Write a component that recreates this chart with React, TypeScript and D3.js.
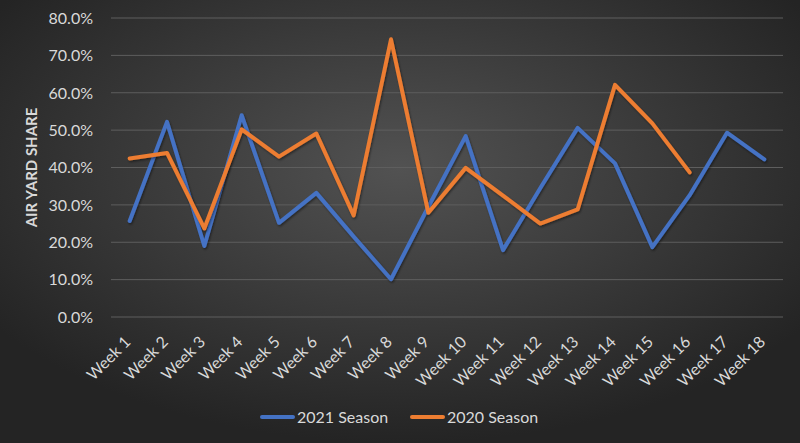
// AirYardShareChart.tsx

import React, { useEffect, useRef } from 'react';
import * as d3 from 'd3';

const weeks = [
  'Week 1', 'Week 2', 'Week 3', 'Week 4', 'Week 5', 'Week 6',
  'Week 7', 'Week 8', 'Week 9', 'Week 10', 'Week 11', 'Week 12',
  'Week 13', 'Week 14', 'Week 15', 'Week 16', 'Week 17', 'Week 18',
];

const season2021 = [
  25.7, 52.2, 19.0, 54.0, 25.2, 33.2, 21.5, 10.1, 29.5,
  48.4, 17.9, 34.5, 50.6, 41.1, 18.7, 32.6, 49.3, 42.2,
];

const season2020: (number | null)[] = [
  42.4, 43.9, 23.7, 50.2, 42.9, 49.1, 27.2, 74.3, 27.9,
  39.9, 32.5, 25.0, 28.8, 62.1, 51.8, 38.7, null, null,
];

const yTicks = [0, 10, 20, 30, 40, 50, 60, 70, 80];

const seriesNames = ['2021 Season', '2020 Season'];

const WIDTH = 800;
const HEIGHT = 443;
const FONT = 'Lato, "Noto Sans", sans-serif';
const TEXT_COLOR = '#d9d9d9';
const COLORS = ['#4472C4', '#ED7D31'];

const AirYardShareChart = () => {
  const svgRef = useRef<SVGSVGElement>(null);

  useEffect(() => {
    const svg = d3.select(svgRef.current);
    svg.selectAll('*').remove();

    const margin = { top: 18, right: 17, bottom: 126, left: 111 };
    const plotW = WIDTH - margin.left - margin.right;
    const plotH = HEIGHT - margin.top - margin.bottom;

    // background gradient + shadow filter
    const defs = svg.append('defs');
    const grad = defs
      .append('radialGradient')
      .attr('id', 'bg')
      .attr('cx', '50%')
      .attr('cy', '38%')
      .attr('r', '62%');
    grad.append('stop').attr('offset', '0%').attr('stop-color', '#525252');
    grad.append('stop').attr('offset', '100%').attr('stop-color', '#242424');

    const shadow = defs.append('filter').attr('id', 'shadow').attr('x', '-5%').attr('y', '-5%').attr('width', '110%').attr('height', '110%');
    shadow
      .append('feDropShadow')
      .attr('dx', 1)
      .attr('dy', 1.5)
      .attr('stdDeviation', 1.2)
      .attr('flood-color', '#000')
      .attr('flood-opacity', 0.45);

    svg.append('rect').attr('width', WIDTH).attr('height', HEIGHT).attr('fill', 'url(#bg)');

    const g = svg
      .append('g')
      .attr('transform', `translate(${margin.left},${margin.top})`);

    const x = d3.scaleBand<string>().domain(weeks).range([0, plotW]);
    const y = d3.scaleLinear().domain([0, 80]).range([plotH, 0]);
    const cx = (w: string) => (x(w) ?? 0) + x.bandwidth() / 2;

    // gridlines
    g.selectAll('.grid')
      .data(yTicks)
      .enter()
      .append('line')
      .attr('x1', 0)
      .attr('x2', plotW)
      .attr('y1', (d) => y(d))
      .attr('y2', (d) => y(d))
      .attr('stroke', '#5e5e5e')
      .attr('stroke-width', 1);

    // y tick labels
    g.selectAll('.ylabel')
      .data(yTicks)
      .enter()
      .append('text')
      .attr('x', -18)
      .attr('y', (d) => y(d))
      .attr('dy', '0.36em')
      .attr('text-anchor', 'end')
      .attr('fill', TEXT_COLOR)
      .style('font-family', FONT)
      .style('font-size', '16px')
      .text((d) => `${d.toFixed(1)}%`);

    // x tick labels
    g.selectAll('.xlabel')
      .data(weeks)
      .enter()
      .append('text')
      .attr('transform', (d) => `translate(${cx(d) - 2},${plotH + 22}) rotate(-45)`)
      .attr('text-anchor', 'end')
      .attr('dy', '0.35em')
      .attr('fill', TEXT_COLOR)
      .style('font-family', FONT)
      .style('font-size', '16px')
      .text((d) => d);

    // axis title
    svg
      .append('text')
      .attr('transform', `translate(37,${margin.top + plotH / 2}) rotate(-90)`)
      .attr('text-anchor', 'middle')
      .attr('fill', TEXT_COLOR)
      .style('font-family', FONT)
      .style('font-size', '15px')
      .style('font-weight', 'bold')
      .text('AIR YARD SHARE');

    // lines
    const line = d3
      .line<number | null>()
      .defined((d) => d !== null)
      .x((_, i) => cx(weeks[i]))
      .y((d) => y(d as number));

    [season2021, season2020].forEach((vals, i) => {
      g.append('path')
        .datum(vals)
        .attr('d', line)
        .attr('fill', 'none')
        .attr('stroke', COLORS[i])
        .attr('stroke-width', 4)
        .attr('stroke-linejoin', 'round')
        .attr('stroke-linecap', 'round')
        .attr('filter', 'url(#shadow)');
    });

    // legend
    const legendX = [262, 412];
    const legendY = 417;
    seriesNames.forEach((name, i) => {
      const lg = svg.append('g').attr('transform', `translate(${legendX[i]},${legendY})`);
      lg.append('line')
        .attr('x1', 0)
        .attr('x2', 31)
        .attr('stroke', COLORS[i])
        .attr('stroke-width', 4)
        .attr('stroke-linecap', 'round');
      lg.append('text')
        .attr('x', 35)
        .attr('dy', '0.35em')
        .attr('fill', TEXT_COLOR)
        .style('font-family', FONT)
        .style('font-size', '16px')
        .text(name);
    });
  }, []);

  return (
    <svg
      ref={svgRef}
      width={WIDTH}
      height={HEIGHT}
      style={{ position: 'absolute', left: 0, top: 0, display: 'block' }}
    />
  );
};

export default function App() {
  return <AirYardShareChart />;
}
